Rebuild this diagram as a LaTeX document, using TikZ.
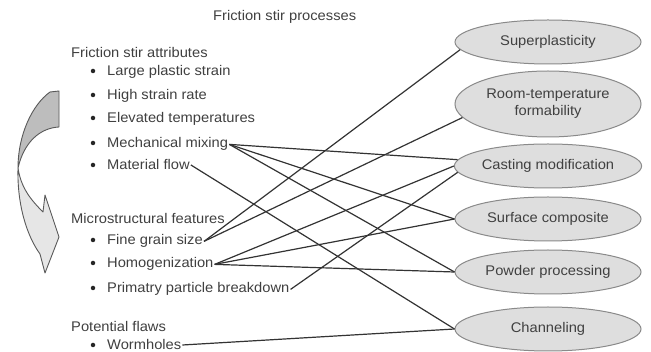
\documentclass[tikz,border=0pt]{standalone}
\usepackage{fontspec}
\setmainfont[FakeStretch=1.05]{Liberation Sans}
\usetikzlibrary{shapes.geometric}
\definecolor{ellfill}{HTML}{DEDEDE}
\definecolor{elldraw}{HTML}{8A8A8A}
\definecolor{lnkcol}{HTML}{333333}
\definecolor{darkpart}{HTML}{BDBDBD}
\definecolor{lightpart}{HTML}{E6E6E6}
\tikzset{
  txt/.style={anchor=base west, inner sep=1pt, font=\fontsize{14}{16}\selectfont, text=black!75},
  bul/.style={circle, fill=black!85, inner sep=0pt, minimum size=4.5pt},
  proc/.style={ellipse, draw=elldraw, fill=ellfill, line width=1pt, minimum width=186pt,
    minimum height=44pt, inner sep=0pt, font=\fontsize{14}{17}\selectfont, text=black!75, align=center},
  lnk/.style={draw=lnkcol, line width=1.2pt},
  arrowpart/.style={draw=black!65, line width=0.9pt, line join=round},
}
\begin{document}
\begin{tikzpicture}[x=1pt,y=-1pt]
\useasboundingbox[fill=white] (0,0) rectangle (651,352);

% curved arrow
\path[arrowpart, fill=darkpart] (50,92) -- (59,91) -- (59,127)
  .. controls (40,128) and (24,142) .. (18,168)
  .. controls (18,135) and (32,105) .. (50,92) -- cycle;
\path[arrowpart, fill=lightpart] (18,168)
  .. controls (17,205) and (27,236) .. (40,254) -- (45,273) -- (59,237) -- (45,195) -- (43,212)
  .. controls (31,200) and (21,188) .. (18,168) -- cycle;

% title and left texts
\node[txt] (title) at (212,21) {Friction stir processes};
\node[txt] (h1) at (70,58) {Friction stir attributes};
\node[bul] (b1) at (93,71) {};
\node[txt] (lps) at (106,76) {Large plastic strain};
\node[bul] (b2) at (93,95) {};
\node[txt] (hsr) at (106,100) {High strain rate};
\node[bul] (b3) at (93,118) {};
\node[txt] (elt) at (106,123) {Elevated temperatures};
\node[bul] (b4) at (93,143) {};
\node[txt] (mix) at (106,148) {Mechanical mixing};
\node[bul] (b5) at (93,165) {};
\node[txt] (flow) at (106,170) {Material flow};

\node[txt] (h2) at (70,224) {Microstructural features};
\node[bul] (b6) at (93,240) {};
\node[txt] (fine) at (106,245) {Fine grain size};
\node[bul] (b7) at (93,263) {};
\node[txt] (homog) at (106,268) {Homogenization};
\node[bul] (b8) at (93,288) {};
\node[txt] (prim) at (106,293) {Primatry particle breakdown};

\node[txt] (h3) at (70,332) {Potential flaws};
\node[bul] (b9) at (93,345) {};
\node[txt] (worm) at (106,350) {Wormholes};

% ellipses
\node[proc] (super) at (548,42) {Superplasticity};
\node[proc, minimum height=66pt] (room) at (548,104) {Room-temperature\\formability};
\node[proc] (cast) at (548,166) {Casting modification};
\node[proc] (surf) at (548,219) {Surface composite};
\node[proc] (powd) at (548,272) {Powder processing};
\node[proc] (chan) at (548,329) {Channeling};

% connectors
\draw[lnk] (mix.east) -- (cast.176);
\draw[lnk] (mix.east) -- (surf.west);
\draw[lnk] (mix.east) -- (powd.west);
\draw[lnk] (flow.east) -- (chan.west);
\draw[lnk] (fine.east) -- (super.185);
\draw[lnk] (fine.east) -- (room.189);
\draw[lnk] (homog.east) -- (cast.west);
\draw[lnk] (homog.east) -- (surf.west);
\draw[lnk] (homog.east) -- (powd.west);
\draw[lnk] (prim.east) -- (cast.184);
\draw[lnk] (worm.east) -- (chan.west);
\end{tikzpicture}
\end{document}
